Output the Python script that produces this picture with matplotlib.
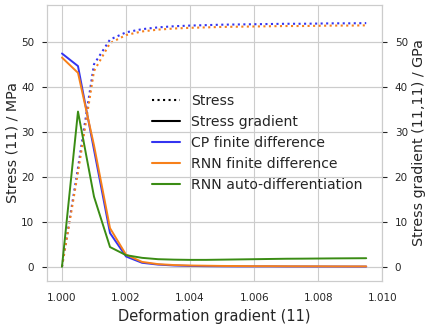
import matplotlib
matplotlib.use("Agg")
import matplotlib.pyplot as plt
from matplotlib.lines import Line2D
import seaborn as sns

# deformation gradient F11
strain = [1.0000, 1.0005, 1.0010, 1.0015, 1.0020, 1.0025, 1.0030, 1.0035, 1.0040, 1.0045,
          1.0050, 1.0055, 1.0060, 1.0065, 1.0070, 1.0075, 1.0080, 1.0085, 1.0090, 1.0095]

# stress (MPa)
cp_stress = [0.0, 22.0, 45.0, 50.5, 52.1, 52.8, 53.2, 53.45, 53.6, 53.7,
             53.8, 53.85, 53.9, 53.95, 54.0, 54.0, 54.05, 54.1, 54.1, 54.15]
rnn_stress = [0.0, 21.0, 43.5, 49.7, 51.5, 52.3, 52.7, 52.95, 53.1, 53.2,
              53.3, 53.35, 53.4, 53.45, 53.5, 53.5, 53.55, 53.6, 53.6, 53.65]

# stress gradient (GPa)
cp_fd = [47.4, 44.6, 26.0, 7.5, 2.3, 0.9, 0.5, 0.3, 0.2, 0.15,
         0.12, 0.1, 0.1, 0.1, 0.08, 0.08, 0.07, 0.07, 0.06, 0.06]
rnn_fd = [46.5, 43.1, 27.0, 8.6, 2.7, 1.1, 0.6, 0.4, 0.3, 0.25,
          0.2, 0.18, 0.15, 0.15, 0.13, 0.12, 0.12, 0.1, 0.1, 0.1]
rnn_ad = [0.0, 34.5, 15.6, 4.4, 2.6, 2.0, 1.7, 1.6, 1.55, 1.55,
          1.6, 1.65, 1.7, 1.75, 1.8, 1.82, 1.85, 1.88, 1.9, 1.92]

c_cp = '#3434f0'
c_rnn = '#f7801a'
c_ad = '#3a8c14'

sns.set_style('whitegrid')
plt.rcParams['font.family'] = ['DejaVu Sans']
plt.rcParams['xtick.major.pad'] = 5.5
plt.rcParams['ytick.major.pad'] = 5.5

fig, ax1 = plt.subplots(figsize=(4.29, 3.25), dpi=100)
fig.subplots_adjust(left=0.109, right=0.891, bottom=0.136, top=0.985)
ax2 = ax1.twinx()

ax1.plot(strain, cp_stress, ':', color=c_cp, lw=1.5)
ax1.plot(strain, rnn_stress, ':', color=c_rnn, lw=1.5)

ax2.plot(strain, cp_fd, '-', color=c_cp, lw=1.4)
ax2.plot(strain, rnn_fd, '-', color=c_rnn, lw=1.4)
ax2.plot(strain, rnn_ad, '-', color=c_ad, lw=1.4)

for ax in (ax1, ax2):
    ax.set_ylim(-3.1, 58.2)
    ax.set_yticks([0, 10, 20, 30, 40, 50])
    ax.tick_params(labelsize=7.5)
ax1.set_xticks([1.000, 1.002, 1.004, 1.006, 1.008, 1.010])
ax1.set_xticklabels(['1.000', '1.002', '1.004', '1.006', '1.008', '1.010'])

ax1.set_xlabel('Deformation gradient (11)', fontsize=10.5)
ax1.set_ylabel('Stress (11) / MPa', fontsize=10.3, labelpad=1.5)
ax2.set_ylabel('Stress gradient (11,11) / GPa', fontsize=10.3, labelpad=3)

handles = [
    Line2D([], [], color='black', ls=':', lw=1.5),
    Line2D([], [], color='black', ls='-', lw=1.5),
    Line2D([], [], color=c_cp, lw=1.5),
    Line2D([], [], color=c_rnn, lw=1.5),
    Line2D([], [], color=c_ad, lw=1.5),
]
labels = ['Stress', 'Stress gradient', 'CP finite difference',
          'RNN finite difference', 'RNN auto-differentiation']
ax2.legend(handles, labels, loc='center left', bbox_to_anchor=(0.275, 0.50),
           frameon=False, fontsize=10.1, labelspacing=0.5)

fig.savefig('out.png', dpi=100)
